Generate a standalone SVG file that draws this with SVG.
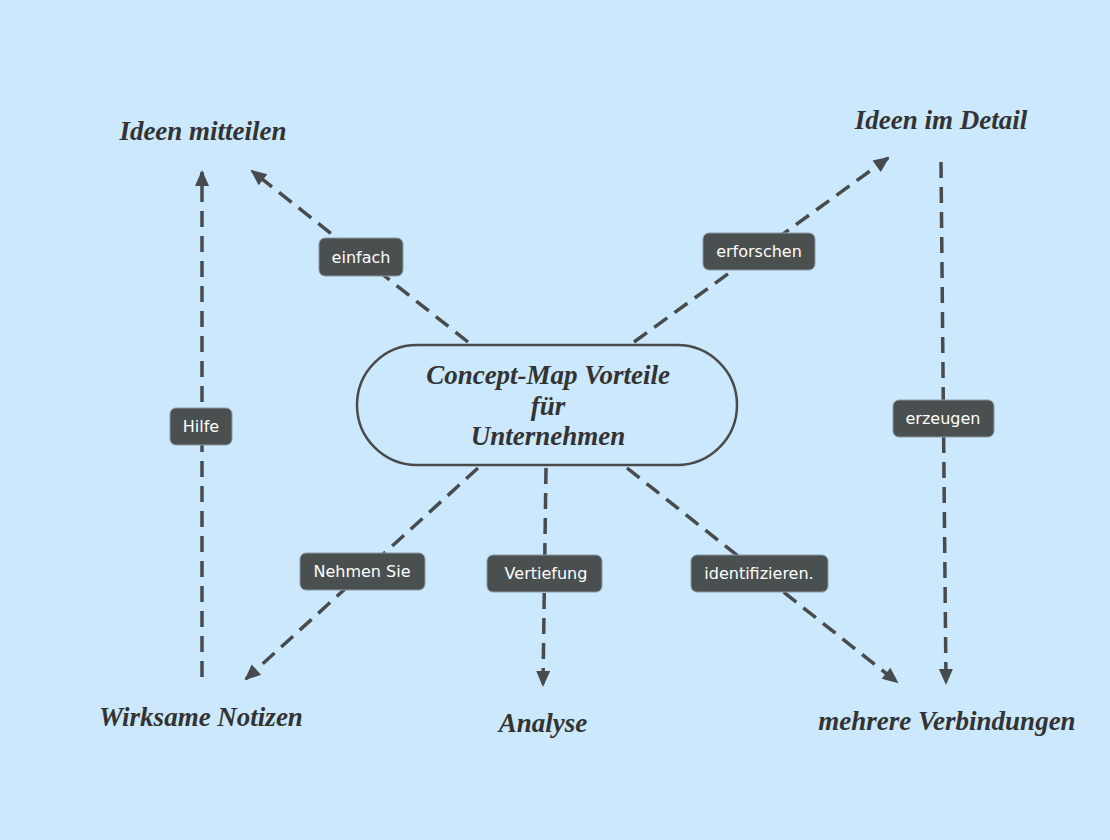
<svg xmlns="http://www.w3.org/2000/svg" width="1110" height="840" viewBox="0 0 1110 840">
<defs>
<marker id="ah" markerUnits="userSpaceOnUse" markerWidth="20" markerHeight="20" viewBox="0 0 20 20" refX="16" refY="10" orient="auto">
<path d="M2,3 L18,10 L2,17 Z" fill="#474b4d"/>
</marker>
<style>
.bg{fill:#cbe8fd}
.conn{stroke:#474b4d;stroke-width:3.5;stroke-dasharray:16 9;fill:none;marker-end:url(#ah)}
.lbl rect{fill:#4a4f50;stroke:#8a9aa3;stroke-width:1}
.lbl text{fill:#ffffff;font-family:"DejaVu Sans",Verdana,sans-serif;font-size:16px;text-anchor:middle}
.node text{fill:#333333;font-family:"Liberation Serif","Times New Roman",serif;font-weight:bold;font-style:italic;font-size:27px;text-anchor:middle}
</style>
</defs>
<rect class="bg" x="0" y="0" width="1110" height="840"/>
<g id="connectors">
<line class="conn" x1="468" y1="342" x2="252" y2="171"/>
<line class="conn" x1="634" y1="342" x2="888" y2="158"/>
<line class="conn" x1="202" y1="677" x2="202" y2="172"/>
<line class="conn" x1="941" y1="162" x2="946" y2="683"/>
<line class="conn" x1="478" y1="468" x2="246" y2="679"/>
<line class="conn" x1="546" y1="468" x2="543" y2="685"/>
<line class="conn" x1="627" y1="468" x2="897" y2="682"/>
</g>
<g id="labels">
<g class="lbl" id="lbl-einfach"><rect x="319" y="238" width="84" height="38" rx="6"/><text x="361" y="263">einfach</text></g>
<g class="lbl" id="lbl-erforschen"><rect x="703" y="233" width="112" height="37" rx="6"/><text x="759" y="257">erforschen</text></g>
<g class="lbl" id="lbl-hilfe"><rect x="170" y="408" width="62" height="37" rx="6"/><text x="201" y="432">Hilfe</text></g>
<g class="lbl" id="lbl-erzeugen"><rect x="893" y="400" width="101" height="37" rx="6"/><text x="943" y="424">erzeugen</text></g>
<g class="lbl" id="lbl-nehmen"><rect x="300" y="553" width="125" height="37" rx="6"/><text x="362" y="577">Nehmen Sie</text></g>
<g class="lbl" id="lbl-vertiefung"><rect x="487" y="555" width="115" height="37" rx="6"/><text x="546" y="579">Vertiefung</text></g>
<g class="lbl" id="lbl-identifizieren"><rect x="691" y="555" width="137" height="37" rx="6"/><text x="759" y="579">identifizieren.</text></g>
</g>
<g class="node" id="center">
<rect x="357" y="345" width="380" height="120" rx="60" fill="#cbe8fd" stroke="#4a4a4a" stroke-width="2.5"/>
<text x="548" y="384">Concept-Map Vorteile</text>
<text x="548" y="415">für</text>
<text x="548" y="445">Unternehmen</text>
</g>
<g class="node" id="n-ideen-mitteilen"><text x="203" y="140">Ideen mitteilen</text></g>
<g class="node" id="n-ideen-detail"><text x="941" y="129">Ideen im Detail</text></g>
<g class="node" id="n-wirksame"><text x="201" y="726">Wirksame Notizen</text></g>
<g class="node" id="n-analyse"><text x="543" y="732">Analyse</text></g>
<g class="node" id="n-mehrere"><text x="947" y="730">mehrere Verbindungen</text></g>
</svg>
